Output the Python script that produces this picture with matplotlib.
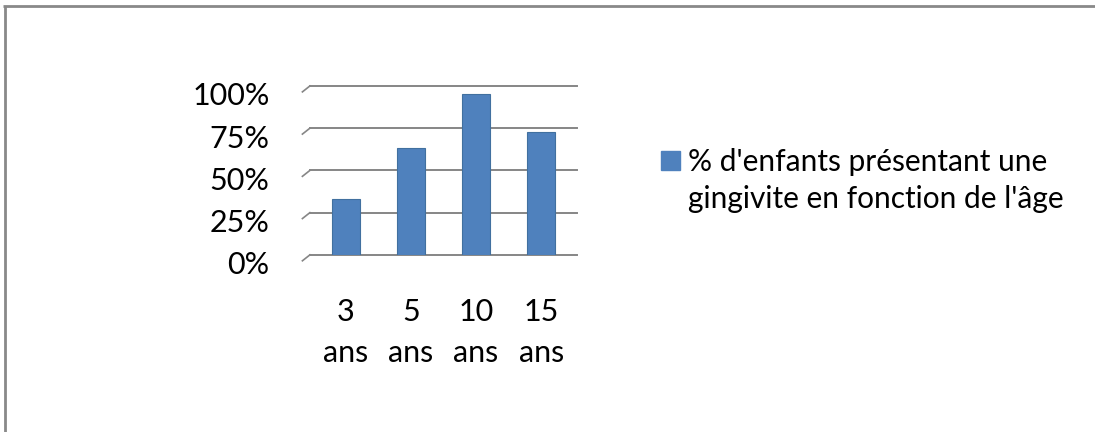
import matplotlib.pyplot as plt
from matplotlib.lines import Line2D
from matplotlib.patches import Patch
from matplotlib.transforms import ScaledTranslation

plt.rcParams['font.family'] = ['Lato', 'DejaVu Sans']

ages = ["3\nans", "5\nans", "10\nans", "15\nans"]
pct_gingivite = [0.33, 0.63, 0.95, 0.73]
y_ticks = [0, 0.25, 0.5, 0.75, 1.0]
y_labels = ["0%", "25%", "50%", "75%", "100%"]
series_name = "% d'enfants présentant une\ngingivite en fonction de l'âge"

bar_color = "#4F81BD"
grid_color = "#868686"

fig = plt.figure(figsize=(10.95, 4.32), dpi=100)
ax = fig.add_axes([0.283, 0.41, 0.244, 0.391])

ax.bar(range(len(ages)), pct_gingivite, width=0.43, color=bar_color,
       edgecolor="#41709F", linewidth=0.8, zorder=3)

ax.set_xlim(-0.55, 3.55)
ax.set_ylim(0, 1)

# gridlines with the little slanted stub on the left (3d look)
for v in y_ticks:
    ax.plot([0, 1], [v, v], transform=ax.get_yaxis_transform(),
            color=grid_color, lw=1.4, zorder=1, clip_on=False)
    ax.plot([-0.028, 0], [v - 0.035, v], transform=ax.get_yaxis_transform(),
            color=grid_color, lw=1.2, zorder=1, clip_on=False)

for s in ax.spines.values():
    s.set_visible(False)

ax.set_yticks(y_ticks, y_labels, fontsize=22)
ax.set_xticks(range(len(ages)), ages, fontsize=22, linespacing=1.55)
ax.tick_params(axis="y", length=0, pad=29)
ax.tick_params(axis="x", length=0, pad=31)
shift = ScaledTranslation(0, -8 / 100, fig.dpi_scale_trans)
for lab in ax.get_yticklabels():
    lab.set_transform(lab.get_transform() + shift)

leg = fig.legend(handles=[Patch(color=bar_color, label=series_name)],
                 loc="upper left", bbox_to_anchor=(0.604, 0.658), frameon=False,
                 fontsize=21.5, handlelength=0.62, handleheight=0.62,
                 handletextpad=0.28, borderpad=0, borderaxespad=0)
leg.get_texts()[0].set_linespacing(1.4)
# square sits next to the first line, as in the original
sq = leg.legend_handles[0]
sq.set_y(sq.get_y() + 15)

# outer frame: only top and left edges are visible
fig.add_artist(Line2D([0.003, 1.0], [0.986, 0.986], color="#898989", lw=2,
                      solid_capstyle="butt"))
fig.add_artist(Line2D([0.0045, 0.0045], [0, 0.986], color="#898989", lw=2,
                      solid_capstyle="butt"))

fig.savefig("out.png", dpi=100)
